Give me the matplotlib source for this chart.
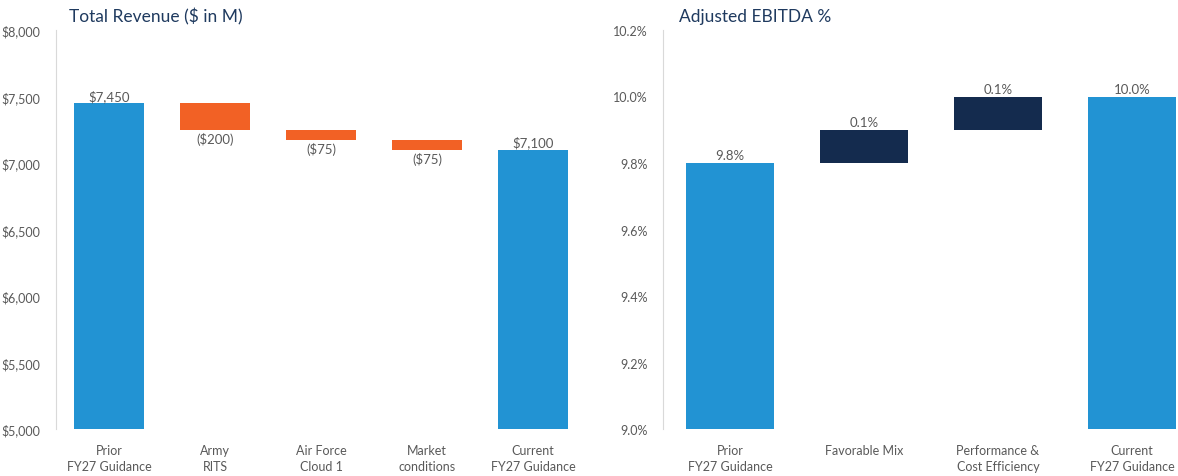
import matplotlib.pyplot as plt

plt.rcParams['font.family'] = ['Lato', 'DejaVu Sans']

# Revenue bridge ($M)
rev_cats = ["Prior\nFY27 Guidance", "Army\nRITS", "Air Force\nCloud 1", "Market\nconditions", "Current\nFY27 Guidance"]
rev_values = [7450, -200, -75, -75, 7100]
rev_total = [True, False, False, False, True]

# Adjusted EBITDA bridge (%)
ebitda_cats = ["Prior\nFY27 Guidance", "Favorable Mix", "Performance &\nCost Efficiency", "Current\nFY27 Guidance"]
ebitda_values = [9.8, 0.1, 0.1, 10.0]
ebitda_total = [True, False, False, True]

BLUE = "#2293D3"
ORANGE = "#F26125"
NAVY = "#142B4E"
GRAY = "#595959"
TITLE = "#1F3A5F"


def bridge(ax, cats, values, totals, width, up_color, down_color):
    # work out where each bar starts
    bottoms, heights, colors = [], [], []
    level = 0
    for v, t in zip(values, totals):
        if t:
            bottoms.append(0)
            heights.append(v)
            colors.append(BLUE)
            level = v
        else:
            start = level
            level = level + v
            bottoms.append(min(start, level))
            heights.append(abs(v))
            colors.append(up_color if v > 0 else down_color)
    x = range(len(cats))
    ax.bar(x, heights, bottom=bottoms, width=width, color=colors)
    ax.set_xticks(list(x))
    ax.set_xticklabels(cats, fontsize=9.5, color=GRAY, linespacing=1.4)
    ax.set_xlim(-0.5, len(cats) - 0.5)
    for s in ["top", "right", "bottom"]:
        ax.spines[s].set_visible(False)
    ax.spines["left"].set_color("#D9D9D9")
    ax.tick_params(length=0, labelsize=9, labelcolor=GRAY)
    ax.tick_params(axis="y", pad=11)
    ax.tick_params(axis="x", pad=11)
    return bottoms, heights


fig = plt.figure(figsize=(11.78, 4.77), dpi=100)

# left: revenue
ax1 = fig.add_axes([56 / 1178, 1 - 430 / 477, 530 / 1178, 399 / 477])
bottoms, heights = bridge(ax1, rev_cats, rev_values, rev_total, 0.66, ORANGE, ORANGE)
ax1.set_ylim(5000, 8000)
ax1.set_yticks(range(5000, 8001, 500))
ax1.set_yticklabels([f"${v:,}" for v in range(5000, 8001, 500)])
for i, v in enumerate(rev_values):
    if rev_total[i]:
        ax1.text(i, bottoms[i] + heights[i] + 10, f"${v:,}", ha="center", va="bottom",
                 fontsize=9.5, color=GRAY)
    else:
        ax1.text(i, bottoms[i] - 20, f"(${abs(v):,})", ha="center", va="top",
                 fontsize=9.5, color=GRAY)
fig.text(69 / 1178, 1 - 17 / 477, "Total Revenue ($ in M)", fontsize=12.5, color=TITLE,
         va="center", ha="left")

# right: EBITDA %
ax2 = fig.add_axes([663 / 1178, 1 - 430 / 477, 536 / 1178, 399 / 477])
bottoms, heights = bridge(ax2, ebitda_cats, ebitda_values, ebitda_total, 0.65, NAVY, NAVY)
ax2.set_ylim(9.0, 10.2)
ticks = [9.0, 9.2, 9.4, 9.6, 9.8, 10.0, 10.2]
ax2.set_yticks(ticks)
ax2.set_yticklabels([f"{t:.1f}%" for t in ticks])
for i, v in enumerate(ebitda_values):
    ax2.text(i, bottoms[i] + heights[i] + 0.005, f"{v:.1f}%", ha="center", va="bottom",
             fontsize=9.5, color=GRAY)
fig.text(679 / 1178, 1 - 17 / 477, "Adjusted EBITDA %", fontsize=12.5, color=TITLE,
         va="center", ha="left")

fig.savefig("out.png", dpi=100)
